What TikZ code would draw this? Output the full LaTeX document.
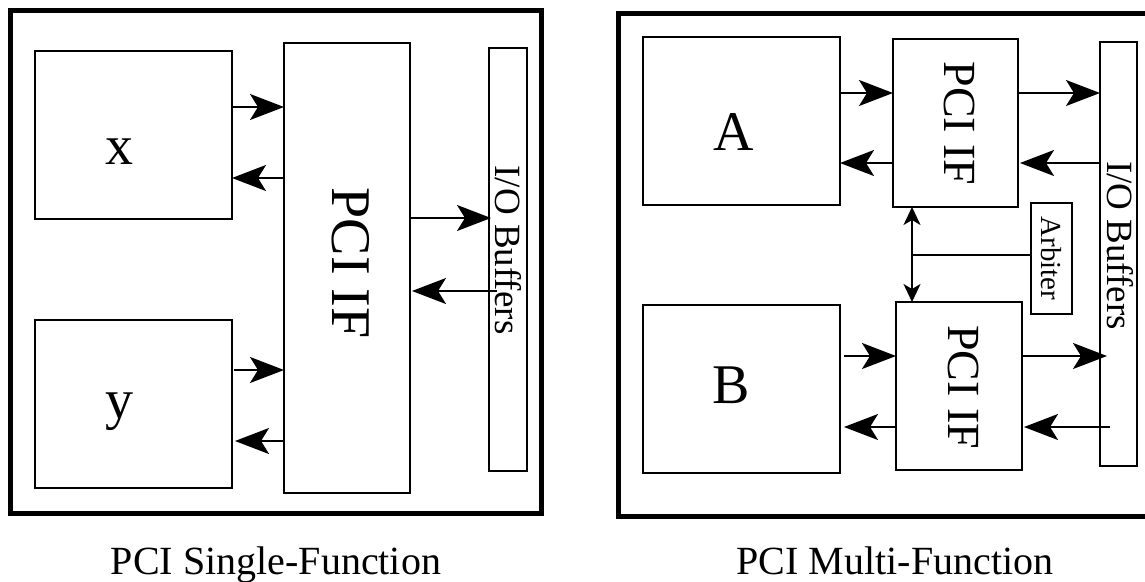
\documentclass[tikz,border=0pt]{standalone}
\usepackage{fontspec}
\setmainfont{Liberation Serif}
\usetikzlibrary{arrows.meta,calc}
\begin{document}
\begin{tikzpicture}[x=1pt,y=-1pt,
  box/.style={draw,line width=2pt,inner sep=0pt,outer sep=0pt},
  txt/.style={inner sep=0pt,outer sep=0pt},
  frm/.style={line width=5pt},
  arr/.style={line width=2pt,-{Stealth[length=34pt,width=26pt,inset=8pt]}},
  dbl/.style={line width=2pt,{Stealth[length=18pt,width=17pt,inset=5pt]}-{Stealth[length=18pt,width=17pt,inset=5pt]}},
  plainline/.style={line width=2pt},
  bigtxt/.style={font=\fontsize{56}{60}\selectfont},
  midtxt/.style={font=\fontsize{46}{50}\selectfont},
  iotxt/.style={font=\fontsize{37}{40}\selectfont},
  smalltxt/.style={font=\fontsize{29}{32}\selectfont},
  captxt/.style={font=\fontsize{40}{44}\selectfont}]
\useasboundingbox (0,0) rectangle (1145,581);
\fill[white] (0,0) rectangle (1145,581);
\clip (0,0) rectangle (1145,581);
% frames
\draw[frm] (10,10) rectangle (541,513);
\draw[frm] (618,13) rectangle (1155,516);
% ---- left panel ----
\node[box,minimum width=197pt,minimum height=168pt] (x) at (133.5,135) {};
\node[box,minimum width=197pt,minimum height=168pt] (y) at (133.5,404) {};
\node[box,minimum width=126pt,minimum height=450pt] (pciL) at (347,268) {};
\node[box,minimum width=38pt,minimum height=423pt] (ioL) at (508,259.5) {};
\node[txt,bigtxt,anchor=base] (xl) at (119,164) {x};
\node[txt,bigtxt,anchor=base] (yl) at (119,418) {y};
\node[txt,bigtxt,rotate=-90] (pciLt) at (351,263) {PCI IF};
\node[txt,iotxt,rotate=-90] (ioLt) at (508.5,250) {I/O Buffers};
\draw[arr] (x.east |- 0,107) -- (pciL.west |- 0,107);
\draw[arr] (pciL.west |- 0,178) -- (x.east |- 0,178);
\draw[arr] ($(y.east |- 0,370)+(2,0)$) -- (pciL.west |- 0,370);
\draw[arr] (pciL.west |- 0,441) -- ($(y.east |- 0,441)+(3,0)$);
\draw[arr] (pciL.east |- 0,218) -- ($(ioL.west |- 0,218)+(2,0)$);
\draw[arr] ($(ioL.west |- 0,291)+(8,0)$) -- ($(pciL.east |- 0,291)+(2,0)$);
\node[txt,captxt,anchor=base] (capL) at (276,574) {PCI Single-Function};
% ---- right panel ----
\node[box,minimum width=197pt,minimum height=168pt] (A) at (741.5,121) {};
\node[box,minimum width=197pt,minimum height=168pt] (B) at (741.5,389) {};
\node[box,minimum width=125pt,minimum height=168pt] (p1) at (955.5,123) {};
\node[box,minimum width=126pt,minimum height=168pt] (p2) at (959,386) {};
\node[box,minimum width=37pt,minimum height=424pt] (ioR) at (1118.5,254) {};
\node[box,minimum width=41pt,minimum height=111pt] (arb) at (1051.5,258.5) {};
\node[txt,bigtxt,anchor=base] (Al) at (734,150) {A};
\node[txt,bigtxt,anchor=base] (Bl) at (731,403) {B};
\node[txt,midtxt,rotate=-90] (p1t) at (959,123.5) {PCI IF};
\node[txt,midtxt,rotate=-90] (p2t) at (963,387) {PCI IF};
\node[txt,iotxt,rotate=-90] (ioRt) at (1120,245.5) {I/O Buffers};
\node[txt,smalltxt,rotate=-90] (arbt) at (1051,258.5) {Arbiter};
\draw[arr] (A.east |- 0,93) -- (p1.west |- 0,93);
\draw[arr] (p1.west |- 0,163) -- (A.east |- 0,163);
\draw[arr] (p1.east |- 0,93) -- (ioR.west |- 0,93);
\draw[arr] (ioR.west |- 0,163) -- ($(p1.east |- 0,163)+(2,0)$);
\draw[arr] ($(B.east |- 0,356)+(4,0)$) -- (p2.west |- 0,356);
\draw[arr] (p2.west |- 0,427) -- ($(B.east |- 0,427)+(4,0)$);
\draw[arr] (p2.east |- 0,356) -- ($(ioR.west |- 0,356)+(7,0)$);
\draw[arr] ($(ioR.west |- 0,427)+(10,0)$) -- ($(p2.east |- 0,427)+(2,0)$);
\coordinate (bus) at (912,255);
\draw[dbl] (p1.south -| bus) -- (p2.north -| bus);
\draw[plainline] (bus) -- (arb.west |- bus);
\node[txt,captxt,anchor=base] (capR) at (895,574) {PCI Multi-Function};
\end{tikzpicture}
\end{document}
